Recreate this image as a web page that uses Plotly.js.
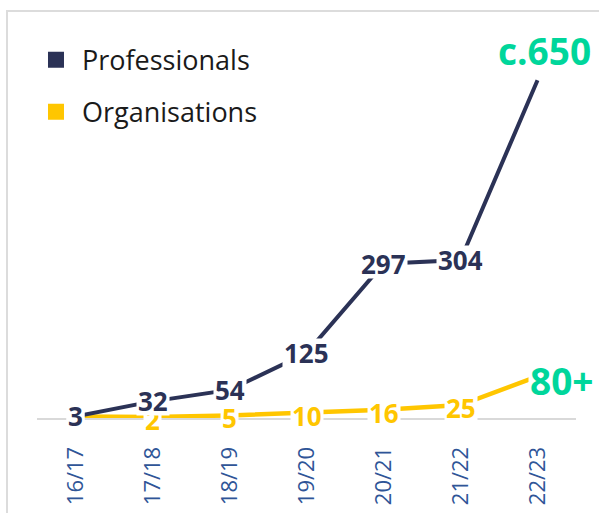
<!DOCTYPE html>
<html>
<head>
<meta charset="utf-8">
<script src="https://cdn.plot.ly/plotly-3.0.1.min.js"></script>
<style>
  html, body { margin: 0; padding: 0; background: #fff; }
  #wrap { position: relative; width: 599px; height: 513px; overflow: hidden; }
  #chart { position: absolute; left: 0; top: 0; width: 599px; height: 513px; }
  #frame { position: absolute; left: 6px; top: 10px; right: -4px; bottom: -4px;
           border-left: 2px solid #dcdcdc; border-top: 2px solid #dcdcdc; pointer-events: none; }
</style>
</head>
<body>
<div id="wrap"><div id="chart"></div><div id="frame"></div></div>
<script>
const categories = ['16/17', '17/18', '18/19', '19/20', '20/21', '21/22', '22/23'];
const professionals = [3, 32, 54, 125, 297, 304, 650];
const organisations = [3, 2, 5, 10, 16, 25, 80];
const profLabels = ['3', '32', '54', '125', '297', '304', 'c.650'];
const orgLabels = ['3', '2', '5', '10', '16', '25', '80+'];

const NAVY = '#2b3256';
const GOLD = '#ffc600';
const GREEN = '#00d69b';
const FONT = '"Open Sans", "Noto Sans", sans-serif';

const traces = [
  { x: categories, y: organisations, type: 'scatter', mode: 'lines',
    line: { color: GOLD, width: 4.5 }, showlegend: false, hoverinfo: 'skip' },
  { x: categories, y: professionals, type: 'scatter', mode: 'lines',
    line: { color: NAVY, width: 4 }, showlegend: false, hoverinfo: 'skip' },
  { x: [null], y: [null], type: 'scatter', mode: 'markers', name: 'Professionals',
    marker: { symbol: 'square', size: 16, color: NAVY }, legendgroup: 'p' },
  { x: [null], y: [null], type: 'scatter', mode: 'markers', name: 'Organisations',
    marker: { symbol: 'square', size: 16, color: GOLD }, legendgroup: 'o' }
];

const annotations = [];
const last = categories.length - 1;
organisations.forEach((v, i) => {
  const isLast = i === last;
  const a = {
    x: categories[i], y: v, xref: 'x', yref: 'y', text: orgLabels[i], showarrow: false,
    font: { family: FONT, size: isLast ? 37 : 26, color: isLast ? GREEN : GOLD, weight: 'bold' },
    bgcolor: '#ffffff', borderpad: 1,
    xshift: isLast ? 24 : 0, yshift: isLast ? -4 : -3
  };
  if (!isLast) a.height = 26;
  annotations.push(a);
});
professionals.forEach((v, i) => {
  const isLast = i === last;
  const a = {
    x: categories[i], y: v, xref: 'x', yref: 'y', text: profLabels[i], showarrow: false,
    font: { family: FONT, size: isLast ? 37 : 26, color: isLast ? GREEN : NAVY, weight: 'bold' },
    bgcolor: '#ffffff', borderpad: 1,
    xshift: isLast ? 7 : 0, yshift: isLast ? 30 : 0
  };
  if (!isLast) a.height = 26;
  annotations.push(a);
});

const layout = {
  width: 599, height: 513,
  margin: { l: 37, r: 23, t: 10, b: 95 },
  paper_bgcolor: '#ffffff', plot_bgcolor: '#ffffff',
  showlegend: true,
  legend: {
    x: -0.013, y: 0.937, xref: 'paper', yref: 'paper', xanchor: 'left', yanchor: 'top',
    font: { family: FONT, size: 27, color: '#1a1a1a' },
    itemwidth: 42,
    tracegroupgap: 14, bgcolor: 'rgba(0,0,0,0)'
  },
  xaxis: {
    type: 'category', range: [-0.5, 6.5], fixedrange: true,
    showline: true, linecolor: '#d9d9d9', linewidth: 2,
    showgrid: false, zeroline: false, ticks: '',
    ticklabelstandoff: 18,
    tickangle: -90, tickfont: { family: FONT, size: 22, color: '#2f5597' }
  },
  yaxis: {
    range: [0, 785], showgrid: false, zeroline: false, showline: false,
    showticklabels: false, ticks: '', fixedrange: true
  },
  annotations: annotations
};

Plotly.newPlot('chart', traces, layout, { displayModeBar: false, staticPlot: true });
</script>
</body>
</html>
